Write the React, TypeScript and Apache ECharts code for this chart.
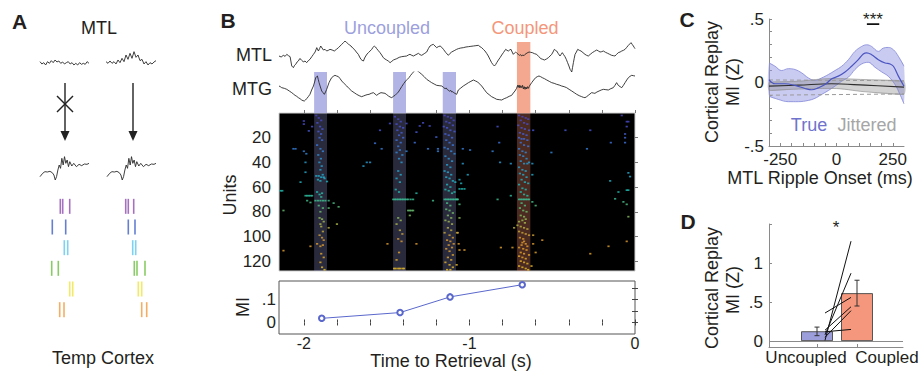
import React, { useEffect, useRef } from 'react';
import * as echarts from 'echarts';

const FONT = '"Liberation Sans", Arial, Helvetica, sans-serif';
const TEXT = '#231f20';
const TRACE = '#2a2a2a';

// ---------- Panel A (schematic) ----------
const mtlQuietTrace = [5, -2, 2, -5, 5, 0, 8, 2, 10, 4, 7, 0, 4, -2, 2, 5, -2, 2, -5, 0, -5, 2, -3, 0, -3, 5, 0];
const mtlRippleTrace = [5, 0, 7, 0, 5, -2, 10, 2, 15, 5, 25, 12, 30, 15, 35, 18, 25, 8, 12, -2, 5, -5, 2, -2, 4, 8];
const cortexTrace = [
  [0, -30], [5.4, -20], [10.1, -15], [14.9, -16], [20.3, -14], [25, -18], [28.4, -25], [31.1, -40], [33.8, -30],
  [36.5, -10], [39.2, 5], [41.9, -5], [44.6, 25], [47.3, 5], [50, 30], [52.7, 10], [55.4, 20], [58.1, 0],
  [60.8, 15], [64.9, 2], [68.9, 10], [74.3, 0], [79.7, 7], [85.1, 3], [90.5, 8], [95.9, 7], [100, 10],
];
const spikeRowColors = ['#8e4bb3', '#3d5fc6', '#5cc6ef', '#6bbf3d', '#f0e43e', '#f19a3b'];
const spikesLeft = [
  [20.3, 0], [22.7, 0], [29.7, 0], [12.3, 1], [25.7, 1], [24.3, 2], [27.7, 2],
  [11.7, 3], [18.3, 3], [29.7, 4], [32.7, 4], [19.7, 5], [24, 5],
];
const spikesRight = [
  [85.7, 0], [88.3, 0], [93.7, 0], [88.3, 1], [95, 1], [92.7, 2], [95.7, 2],
  [94.3, 3], [97, 3], [105, 3], [98.3, 4], [101.7, 4], [101.7, 5], [106.7, 5],
];

// ---------- Panel B ----------
const timeTicks = [-2, -1.8, -1.6, -1.4, -1.2, -1, -0.8, -0.6, -0.4, -0.2, 0];
const timeLabels = [-2, -1, 0];
const bandRanges = [[-1.938, -1.86], [-1.461, -1.383], [-1.161, -1.081], [-0.713, -0.632]];
const bandCoupled = [false, false, false, true];

const mtlLfp = [
  [-2.15, 0], [-2.137, -3], [-2.124, 2], [-2.113, -1], [-2.103, 5], [-2.093, 1], [-2.083, -2], [-2.073, -30], [-2.063, -35],
  [-2.056, -28], [-2.049, -25], [-2.041, -18], [-2.033, -15], [-2.025, -8], [-2.017, -10], [-2.01, -14], [-2.003, -18],
  [-1.993, -15], [-1.983, -20], [-1.973, -14], [-1.963, -10], [-1.952, -2], [-1.942, 5], [-1.932, 12], [-1.922, 25],
  [-1.912, 15], [-1.905, 22], [-1.898, 30], [-1.89, 24], [-1.882, 18], [-1.872, 20], [-1.862, 15], [-1.852, 17],
  [-1.842, 20], [-1.829, 18], [-1.816, 15], [-1.803, 20], [-1.791, 25], [-1.781, 30], [-1.771, 35], [-1.761, 40],
  [-1.751, 45], [-1.743, 41], [-1.735, 38], [-1.725, 33], [-1.715, 30], [-1.705, 24], [-1.695, 20], [-1.683, 12],
  [-1.671, 5], [-1.663, -3], [-1.655, -10], [-1.648, -13], [-1.64, -15], [-1.633, -6], [-1.626, 0], [-1.618, 6],
  [-1.61, 10], [-1.6, 15], [-1.59, 20], [-1.582, 26], [-1.574, 30], [-1.567, 27], [-1.56, 22], [-1.55, 16], [-1.54, 10],
  [-1.53, 3], [-1.52, -5], [-1.51, -9], [-1.5, -12], [-1.49, -15], [-1.479, -20], [-1.469, -16], [-1.459, -12],
  [-1.449, -10], [-1.439, -8], [-1.424, -4], [-1.409, -2], [-1.394, -1], [-1.379, 0], [-1.369, 3], [-1.359, 5],
  [-1.348, 2], [-1.338, 0], [-1.323, 4], [-1.308, 8], [-1.298, 4], [-1.288, 2], [-1.273, 7], [-1.258, 12], [-1.248, 22],
  [-1.238, 30], [-1.228, 33], [-1.218, 35], [-1.208, 30], [-1.198, 25], [-1.188, 28], [-1.177, 30], [-1.167, 26],
  [-1.157, 20], [-1.142, 10], [-1.127, 2], [-1.117, 8], [-1.107, 12], [-1.092, 16], [-1.077, 20], [-1.067, 22],
  [-1.052, 24], [-1.037, 25], [-1.021, 27], [-1.006, 28], [-0.991, 29], [-0.976, 30], [-0.961, 31], [-0.946, 32],
  [-0.936, 28], [-0.926, 25], [-0.916, 20], [-0.906, 15], [-0.896, 8], [-0.886, 0], [-0.876, -10], [-0.866, -20],
  [-0.857, -26], [-0.849, -30], [-0.842, -26], [-0.835, -20], [-0.825, -12], [-0.815, -5], [-0.805, 3], [-0.795, 10],
  [-0.788, 15], [-0.781, 20], [-0.773, 17], [-0.765, 15], [-0.757, 18], [-0.749, 20], [-0.742, 12], [-0.735, 5],
  [-0.728, 9], [-0.721, 12], [-0.713, 8], [-0.705, 5], [-0.698, 2], [-0.69, 4], [-0.684, 0], [-0.677, 3], [-0.67, 1],
  [-0.664, 5], [-0.652, 9], [-0.64, 12], [-0.63, 11], [-0.62, 10], [-0.607, 7], [-0.594, 5], [-0.581, -2], [-0.568, -8],
  [-0.557, -10], [-0.547, -12], [-0.535, -9], [-0.523, -5], [-0.513, 0], [-0.503, 5], [-0.495, 12], [-0.487, 20],
  [-0.48, 17], [-0.473, 15], [-0.463, 7], [-0.453, 0], [-0.446, 5], [-0.439, 10], [-0.431, 4], [-0.423, -2],
  [-0.415, -10], [-0.407, -20], [-0.399, -30], [-0.392, -40], [-0.387, -44], [-0.382, -48], [-0.377, -34],
  [-0.372, -20], [-0.367, -7], [-0.362, 5], [-0.354, 12], [-0.346, 20], [-0.336, 17], [-0.326, 15], [-0.314, 10],
  [-0.302, 5], [-0.292, 2], [-0.282, 0], [-0.27, 5], [-0.258, 10], [-0.245, 14], [-0.231, 18], [-0.221, 15],
  [-0.211, 12], [-0.201, 13], [-0.191, 15], [-0.178, 11], [-0.165, 8], [-0.153, 5], [-0.141, 2], [-0.131, 1],
  [-0.121, 0], [-0.111, 5], [-0.101, 10], [-0.09, 12], [-0.08, 15], [-0.07, 17], [-0.06, 20], [-0.05, 26], [-0.04, 32],
  [-0.032, 36], [-0.024, 40], [-0.017, 35], [-0.01, 30], [-0.005, 26], [0, 22],
];

const mtgLfp = [
  [-2.15, 0], [-2.142, -2], [-2.134, -5], [-2.118, -7], [-2.103, -10], [-2.088, -15], [-2.073, -20], [-2.063, -24],
  [-2.053, -28], [-2.043, -31], [-2.033, -35], [-2.023, -38], [-2.013, -42], [-2.005, -44], [-1.997, -45], [-1.99, -42],
  [-1.983, -38], [-1.973, -32], [-1.963, -25], [-1.953, -12], [-1.942, 0], [-1.935, 12], [-1.928, 25], [-1.923, 28],
  [-1.918, 30], [-1.913, 20], [-1.908, 10], [-1.9, -3], [-1.892, -15], [-1.884, -20], [-1.876, -25], [-1.869, -18],
  [-1.862, -10], [-1.855, 0], [-1.848, 10], [-1.84, 18], [-1.832, 25], [-1.822, 29], [-1.812, 32], [-1.802, 30],
  [-1.791, 28], [-1.781, 22], [-1.771, 15], [-1.756, 7], [-1.741, 0], [-1.726, -8], [-1.711, -15], [-1.696, -20],
  [-1.681, -25], [-1.666, -29], [-1.651, -32], [-1.64, -30], [-1.63, -28], [-1.618, -26], [-1.606, -25], [-1.593, -22],
  [-1.58, -20], [-1.57, -24], [-1.56, -28], [-1.547, -23], [-1.534, -20], [-1.522, -21], [-1.51, -22], [-1.499, -26],
  [-1.489, -30], [-1.479, -33], [-1.469, -35], [-1.459, -31], [-1.449, -28], [-1.439, -23], [-1.429, -18],
  [-1.419, -10], [-1.409, -2], [-1.397, 7], [-1.385, 15], [-1.375, 20], [-1.365, 25], [-1.355, 32], [-1.345, 38],
  [-1.336, 43], [-1.328, 48], [-1.32, 47], [-1.312, 45], [-1.3, 40], [-1.288, 35], [-1.273, 28], [-1.258, 20],
  [-1.243, 15], [-1.228, 10], [-1.213, 6], [-1.198, 2], [-1.183, 1], [-1.167, 0], [-1.157, -4], [-1.147, -8],
  [-1.14, -6], [-1.133, -11], [-1.127, -12], [-1.12, -16], [-1.113, -13], [-1.107, -18], [-1.1, -17], [-1.092, -21],
  [-1.077, -25], [-1.067, -12], [-1.052, -6], [-1.037, 0], [-1.021, 5], [-1.006, 10], [-0.991, 14], [-0.976, 18],
  [-0.963, 15], [-0.95, 12], [-0.938, 6], [-0.926, 0], [-0.911, -10], [-0.896, -20], [-0.881, -26], [-0.866, -32],
  [-0.85, -36], [-0.835, -40], [-0.82, -41], [-0.805, -42], [-0.79, -38], [-0.775, -35], [-0.76, -31], [-0.745, -28],
  [-0.735, -21], [-0.725, -15], [-0.715, -7], [-0.709, 2], [-0.705, -4], [-0.7, 3], [-0.695, -6], [-0.69, 1],
  [-0.684, -5], [-0.679, 2], [-0.674, -9], [-0.669, -2], [-0.664, -10], [-0.659, -3], [-0.654, -9], [-0.649, -2],
  [-0.644, -7], [-0.638, -1], [-0.634, 3], [-0.624, 10], [-0.612, 18], [-0.6, 25], [-0.59, 28], [-0.58, 30],
  [-0.57, 28], [-0.56, 25], [-0.547, 22], [-0.533, 18], [-0.518, 14], [-0.503, 10], [-0.488, 8], [-0.473, 5],
  [-0.458, 3], [-0.443, 0], [-0.428, -2], [-0.413, -5], [-0.398, -10], [-0.382, -15], [-0.367, -20], [-0.352, -25],
  [-0.337, -29], [-0.322, -32], [-0.312, -34], [-0.302, -35], [-0.292, -32], [-0.282, -28], [-0.272, -24],
  [-0.262, -20], [-0.252, -21], [-0.242, -22], [-0.23, -18], [-0.217, -15], [-0.204, -12], [-0.191, -10],
  [-0.176, -11], [-0.161, -12], [-0.146, -8], [-0.131, -5], [-0.121, 2], [-0.111, 10], [-0.106, 6], [-0.101, 2],
  [-0.09, -2], [-0.08, -5], [-0.07, 2], [-0.06, 10], [-0.05, 18], [-0.04, 25], [-0.03, 29], [-0.02, 32], [-0.01, 31], [0, 30],
];

// raster spikes: [time (s), unit]
const spikesScattered = [
  [-2.14, 63], [-2.13, 63], [-2.123, 111.5], [-2.123, 79], [-2.063, 29], [-2.05, 29], [-2.02, 56], [-2.0, 6.5], [-2.0, 9],
  [-2.0, 31], [-1.985, 33], [-1.99, 40], [-1.99, 48], [-1.99, 67], [-1.98, 67], [-1.97, 67], [-1.96, 67], [-1.95, 67],
  [-1.98, 71], [-1.96, 72.5], [-1.97, 14.5], [-1.95, 11], [-1.96, 108], [-1.86, 55.5], [-1.85, 71], [-1.85, 77],
  [-1.85, 93], [-1.82, 73], [-1.8, 90], [-1.79, 76], [-1.64, 43], [-1.62, 40], [-1.6, 40], [-1.57, 24.5], [-1.54, 14],
  [-1.53, 29], [-1.495, 106], [-1.48, 8.5], [-1.38, 8.5], [-1.38, 31], [-1.37, 79], [-1.36, 79], [-1.35, 79], [-1.34, 79],
  [-1.36, 83], [-1.33, 24], [-1.32, 15.5], [-1.32, 106], [-1.32, 65], [-1.3, 10.5], [-1.28, 8], [-1.24, 10.5],
  [-1.25, 29], [-1.19, 29], [-1.22, 71], [-1.2, 19.5], [-1.19, 31],
  [-1.04, 29], [-0.996, 30], [-1.04, 41], [-1.06, 54], [-1.05, 57], [-1.06, 61.5], [-1.045, 61.5], [-1.03, 61.5],
  [-1.01, 50], [-1.075, 70], [-1.06, 74], [-1.06, 85], [-1.06, 111], [-1.03, 111], [-1.077, 123], [-1.075, 97],
  [-1.07, 97], [-1.065, 106], [-0.83, 11], [-0.82, 24], [-0.86, 31], [-0.815, 40], [-0.83, 70], [-0.81, 109],
  [-0.75, 41], [-0.75, 67], [-0.73, 93], [-0.74, 109], [-0.615, 14], [-0.62, 41], [-0.62, 50], [-0.62, 72], [-0.6, 75],
  [-0.615, 99], [-0.615, 106], [-0.6, 113], [-0.56, 103], [-0.625, 124], [-0.505, 32], [-0.42, 14], [-0.29, 29],
  [-0.27, 114], [-0.27, 14], [-0.16, 108], [-0.15, 55], [-0.146, 24], [-0.1, 64], [-0.12, 69.5], [-0.07, 72],
  [-0.08, 2], [-0.05, 7], [-0.04, 7], [-0.05, 11], [-0.06, 17], [-0.06, 20], [-0.06, 24], [-0.05, 62.5], [-0.04, 62.5],
  [-0.05, 74], [-0.04, 48.5], [-0.03, 51.5], [-0.04, 84], [-0.05, 104],
];
const spikesEvent1 = [
  [-1.925, 2], [-1.91, 4], [-1.895, 6], [-1.918, 8], [-1.902, 11], [-1.888, 13], [-1.912, 15], [-1.896, 17], [-1.905, 20],
  [-1.89, 22], [-1.92, 26], [-1.9, 29], [-1.885, 31], [-1.913, 34], [-1.897, 37], [-1.906, 40], [-1.892, 43], [-1.9, 46],
  [-1.925, 51], [-1.91, 51], [-1.895, 52], [-1.88, 52], [-1.915, 54], [-1.9, 55], [-1.886, 50], [-1.875, 53],
  [-1.92, 64], [-1.905, 66], [-1.89, 65], [-1.93, 71], [-1.915, 71], [-1.9, 71], [-1.885, 71], [-1.87, 71], [-1.895, 68],
  [-1.91, 75], [-1.885, 77], [-1.9, 80], [-1.905, 85], [-1.89, 86], [-1.88, 88], [-1.9, 90], [-1.895, 92],
  [-1.885, 96], [-1.905, 99], [-1.89, 101], [-1.88, 103], [-1.92, 106], [-1.9, 108], [-1.885, 107],
  [-1.895, 114], [-1.88, 117], [-1.9, 121], [-1.89, 125], [-1.875, 127],
];
const spikesEvent2 = [
  [-1.45, 3], [-1.43, 5], [-1.415, 7], [-1.44, 9], [-1.42, 11], [-1.4, 12], [-1.435, 14], [-1.41, 16], [-1.425, 18],
  [-1.4, 20], [-1.44, 22], [-1.415, 24], [-1.43, 27], [-1.42, 30], [-1.44, 32], [-1.405, 34], [-1.425, 37], [-1.41, 40],
  [-1.43, 47], [-1.415, 50], [-1.44, 53], [-1.42, 56], [-1.445, 62], [-1.425, 64],
  [-1.46, 70], [-1.45, 70], [-1.44, 70], [-1.43, 70], [-1.42, 70], [-1.41, 70], [-1.4, 70], [-1.39, 70], [-1.38, 70],
  [-1.37, 70], [-1.355, 70], [-1.34, 70], [-1.43, 85], [-1.415, 87], [-1.44, 90], [-1.42, 95], [-1.405, 98],
  [-1.43, 102], [-1.41, 104], [-1.425, 113], [-1.44, 119],
  [-1.455, 126], [-1.445, 126], [-1.43, 126], [-1.42, 126], [-1.405, 126], [-1.395, 126],
];
const spikesEvent3 = [
  [-1.15, 2], [-1.13, 3], [-1.11, 4], [-1.095, 6], [-1.14, 7], [-1.12, 8], [-1.1, 10], [-1.155, 11], [-1.135, 12],
  [-1.115, 14], [-1.09, 15], [-1.145, 17], [-1.125, 18], [-1.105, 20], [-1.14, 22], [-1.12, 24],
  [-1.1, 26], [-1.15, 28], [-1.13, 29], [-1.11, 31], [-1.09, 33], [-1.145, 35], [-1.125, 37], [-1.105, 39],
  [-1.135, 42], [-1.115, 44], [-1.15, 47], [-1.13, 48], [-1.11, 50], [-1.14, 52], [-1.12, 53], [-1.1, 55],
  [-1.085, 56], [-1.135, 58], [-1.115, 60], [-1.145, 62], [-1.125, 63], [-1.105, 65], [-1.09, 64],
  [-1.15, 70], [-1.14, 70], [-1.13, 70], [-1.12, 70], [-1.11, 70], [-1.1, 70], [-1.09, 70], [-1.08, 70], [-1.07, 70],
  [-1.135, 73], [-1.115, 75], [-1.14, 78], [-1.12, 79], [-1.1, 81], [-1.13, 83], [-1.11, 85], [-1.145, 87],
  [-1.125, 88], [-1.105, 90], [-1.13, 93], [-1.11, 95], [-1.15, 97], [-1.12, 99], [-1.1, 101], [-1.135, 103],
  [-1.115, 104], [-1.095, 106], [-1.125, 107], [-1.105, 109], [-1.14, 110], [-1.12, 112], [-1.1, 115], [-1.13, 117],
  [-1.11, 119], [-1.145, 121], [-1.12, 123], [-1.1, 125], [-1.135, 127], [-1.115, 127],
];
const spikesEvent4 = [
  [-0.7, 2], [-0.68, 3], [-0.66, 4], [-0.645, 5], [-0.69, 6], [-0.67, 8], [-0.65, 9], [-0.705, 10], [-0.685, 12],
  [-0.665, 13], [-0.64, 14], [-0.695, 16], [-0.675, 17], [-0.655, 18], [-0.7, 20], [-0.685, 21], [-0.67, 21],
  [-0.65, 22], [-0.69, 24], [-0.67, 26], [-0.645, 27], [-0.7, 29], [-0.68, 31], [-0.66, 32], [-0.695, 34],
  [-0.675, 35], [-0.655, 37], [-0.69, 39], [-0.67, 41], [-0.65, 41], [-0.64, 40], [-0.7, 44], [-0.68, 46],
  [-0.66, 47], [-0.695, 49], [-0.675, 50], [-0.655, 52], [-0.685, 54], [-0.665, 56], [-0.645, 57], [-0.7, 58],
  [-0.68, 61], [-0.66, 62], [-0.69, 64], [-0.67, 66], [-0.65, 67], [-0.7, 70], [-0.69, 70], [-0.68, 70], [-0.67, 70],
  [-0.66, 70], [-0.65, 70], [-0.64, 70], [-0.685, 73], [-0.665, 75], [-0.695, 77], [-0.675, 79], [-0.655, 80],
  [-0.69, 83], [-0.67, 84], [-0.66, 86], [-0.68, 87], [-0.7, 88], [-0.665, 89], [-0.71, 91], [-0.69, 92], [-0.67, 93],
  [-0.65, 94], [-0.7, 96], [-0.68, 97], [-0.66, 98], [-0.64, 99], [-0.695, 101], [-0.675, 102], [-0.67, 104],
  [-0.68, 105], [-0.66, 106], [-0.685, 107], [-0.65, 108], [-0.7, 109], [-0.675, 110], [-0.655, 111], [-0.69, 113],
  [-0.67, 114], [-0.64, 115], [-0.7, 116], [-0.68, 117], [-0.66, 118], [-0.69, 120], [-0.67, 121], [-0.65, 122],
  [-0.7, 124], [-0.68, 125], [-0.66, 126], [-0.645, 127],
];
const unitColors = ['#4b3fbf', '#4a55d6', '#3b78e0', '#2a9ad6', '#22b0d0', '#22c0b0', '#5cc47a', '#b0bc4a', '#e09a30', '#e8a82a', '#e8c02a'];

const miTimes = [-1.892, -1.419, -1.117, -0.681];
const miValues = [0.018, 0.043, 0.111, 0.164];

// ---------- Panel C ----------
const trueMean = [
  [-300, 0.023], [-273, -0.01], [-229, -0.01], [-184, -0.023], [-140, -0.047], [-110, -0.057], [-81, -0.042],
  [-51, -0.016], [-21, 0.029], [8, 0.05], [38, 0.083], [67, 0.128], [97, 0.18], [119, 0.224], [134, 0.234],
  [156, 0.219], [186, 0.18], [216, 0.154], [238, 0.146], [253, 0.128], [275, 0.05], [300, -0.029],
];
const trueUpper = [
  [-300, 0.154], [-273, 0.128], [-244, 0.094], [-214, 0.109], [-184, 0.102], [-155, 0.076], [-125, 0.036],
  [-96, 0.016], [-66, 0.036], [-36, 0.063], [-7, 0.094], [23, 0.128], [53, 0.18], [82, 0.245], [112, 0.284],
  [134, 0.297], [156, 0.284], [186, 0.245], [208, 0.271], [230, 0.276], [253, 0.258], [275, 0.206], [300, 0.128],
];
const trueLower = [
  [-300, -0.107], [-259, -0.133], [-214, -0.151], [-170, -0.151], [-125, -0.141], [-96, -0.125], [-66, -0.094],
  [-36, -0.063], [-7, -0.029], [23, 0.01], [53, 0.042], [82, 0.102], [112, 0.146], [141, 0.159], [171, 0.12],
  [201, 0.083], [230, 0.049], [260, -0.016], [282, -0.094], [300, -0.167],
];
const jitterMean = [[-300, -0.029], [-170, -0.021], [-21, -0.01], [127, -0.021], [300, -0.036]];
const jitterUpper = [[-300, 0.003], [-170, 0.01], [-21, 0.031], [127, 0.023], [300, 0.01]];
const jitterLower = [[-300, -0.063], [-170, -0.052], [-21, -0.047], [127, -0.073], [300, -0.094]];
const jitterCiUpper = [[-300, 0.02], [300, 0.014]];
const jitterCiLower = [[-300, -0.1], [300, -0.09]];
const sigWindow = [[135, 0.46], [190, 0.46]];

// ---------- Panel D ----------
const dCategoryPos = [1, 2];
const dMeans = [0.127, 0.615];
const dErrLow = [0.07, 0.45];
const dErrHigh = [0.18, 0.78];
const dColors = ['#9c9edc', '#f4977c'];
const subjUncoupled = [0.01, 0.08, 0.36, 0.14, 0.05, 0.12];
const subjCoupled = [1.28, 0.87, 0.56, 0.44, 0.39, 0.15];
const pairX = [1.2, 1.85];

const decFmt = (v: number) => {
  if (Math.abs(v) < 1e-9) return '0';
  const s = Math.abs(v).toString();
  return (v < 0 ? '-' : '') + (s.startsWith('0.') ? s.slice(1) : s);
};

function buildOption() {
  const label = (size = 17) => ({ color: TEXT, fontSize: size, fontFamily: FONT });
  const hidden = (gridIndex: number, min: number, max: number, inverse = false) => ({
    type: 'value', gridIndex, min, max, inverse, show: false,
  });

  const grid = [
    { left: 40, top: 50, width: 49, height: 18.33 }, // 0 A top left
    { left: 106, top: 50, width: 50, height: 18.33 }, // 1 A top right
    { left: 40, top: 155, width: 49, height: 26.67 }, // 2 A bottom left
    { left: 107, top: 155, width: 49, height: 26.67 }, // 3 A bottom right
    { left: 40, top: 196, width: 120, height: 124 }, // 4 spikes
    { left: 279, top: 38, width: 356, height: 34 }, // 5 MTL
    { left: 279, top: 72, width: 356, height: 41 }, // 6 MTG
    { left: 279, top: 113, width: 356, height: 158, show: true, backgroundColor: '#000', borderColor: '#d0d0d0', borderWidth: 1 }, // 7 raster
    { left: 279, top: 281, width: 356, height: 53, show: true, backgroundColor: 'transparent', borderColor: '#555', borderWidth: 1 }, // 8 MI
    { left: 769, top: 19, width: 135, height: 127 }, // 9 C
    { left: 769, top: 224, width: 134, height: 123 }, // 10 D
  ];

  const tickStyle = (color = '#444') => ({ show: true, inside: true, length: 3, lineStyle: { color, width: 1 } });

  const xAxis: any[] = [
    hidden(0, 0, mtlQuietTrace.length - 1),
    hidden(1, 0, mtlRippleTrace.length - 1),
    hidden(2, 0, 100),
    hidden(3, 0, 100),
    hidden(4, 0, 120),
    hidden(5, -2.15, 0),
    hidden(6, -2.15, 0),
    {
      type: 'value', gridIndex: 7, min: -2.15, max: 0, axisLine: { show: false }, splitLine: { show: false },
      axisLabel: { show: false }, axisTick: { ...tickStyle('#777'), customValues: timeTicks },
    },
    {
      type: 'value', gridIndex: 8, min: -2.15, max: 0, position: 'bottom', axisLine: { show: false }, splitLine: { show: false },
      axisTick: { ...tickStyle('#444'), customValues: timeTicks },
      axisLabel: { ...label(16), margin: 1, customValues: timeLabels, formatter: (v: number) => String(v) },
    },
    {
      type: 'value', gridIndex: 9, min: -300, max: 300, interval: 50,
      axisLine: { show: true, onZero: false, lineStyle: { color: '#8a8a8a', width: 1 } }, splitLine: { show: false },
      axisTick: { ...tickStyle('#8a8a8a'), customValues: [-250, -200, -150, -100, -50, 0, 50, 100, 150, 200, 250] },
      axisLabel: { ...label(17), margin: 5, customValues: [-250, 0, 250], formatter: (v: number) => String(v) },
    },
    {
      type: 'value', gridIndex: 10, min: -0.2, max: 3.15,
      axisLine: { show: true, onZero: false, lineStyle: { color: '#8a8a8a', width: 1 } }, splitLine: { show: false },
      axisTick: { ...tickStyle('#8a8a8a'), customValues: dCategoryPos }, axisLabel: { show: false },
    },
    {
      type: 'value', gridIndex: 8, min: -2.15, max: 0, position: 'top', axisLine: { show: false }, splitLine: { show: false },
      axisTick: { ...tickStyle('#444'), customValues: timeTicks }, axisLabel: { show: false },
    },
  ];

  const yAxis: any[] = [
    hidden(0, -15, 40),
    hidden(1, -15, 40),
    hidden(2, -45, 35),
    hidden(3, -45, 35),
    hidden(4, -0.5, 5.5, true),
    hidden(5, -48, 54),
    hidden(6, -81, 42),
    {
      type: 'value', gridIndex: 7, min: 0, max: 128, inverse: true, axisLine: { show: false }, splitLine: { show: false },
      axisTick: { ...tickStyle('#777'), customValues: [20, 40, 60, 80, 100, 120] },
      axisLabel: { ...label(17), margin: 8, customValues: [20, 40, 60, 80, 100, 120] },
    },
    {
      type: 'value', gridIndex: 8, min: -0.05, max: 0.18, axisLine: { show: false }, splitLine: { show: false },
      axisTick: { ...tickStyle('#444'), customValues: [0, 0.05, 0.1, 0.15] },
      axisLabel: { ...label(17), margin: 3, customValues: [0, 0.1], formatter: decFmt },
    },
    {
      type: 'value', gridIndex: 9, min: -0.5, max: 0.5,
      axisLine: { show: true, onZero: false, lineStyle: { color: '#8a8a8a', width: 1 } }, splitLine: { show: false },
      axisTick: { ...tickStyle('#8a8a8a'), customValues: [-0.4, -0.3, -0.2, -0.1, 0, 0.1, 0.2, 0.3, 0.4, 0.5] },
      axisLabel: { ...label(17), margin: 5, customValues: [-0.5, 0, 0.5], formatter: decFmt },
    },
    {
      type: 'value', gridIndex: 10, min: -0.075, max: 1.5,
      axisLine: { show: true, onZero: false, lineStyle: { color: '#8a8a8a', width: 1 } }, splitLine: { show: false },
      axisTick: { ...tickStyle('#8a8a8a'), customValues: [0, 0.5, 1, 1.5] },
      axisLabel: { ...label(17), margin: 6, customValues: [0, 0.5, 1], formatter: decFmt },
    },
    {
      type: 'value', gridIndex: 8, min: -0.05, max: 0.18, position: 'right', axisLine: { show: false }, splitLine: { show: false },
      axisTick: { ...tickStyle('#444'), customValues: [0, 0.05, 0.1, 0.15] }, axisLabel: { show: false },
    },
  ];

  const series: any[] = [];
  const lineS = (idx: number, data: any[], color: string, width = 1, extra: any = {}) => ({
    type: 'line', xAxisIndex: idx, yAxisIndex: idx, data, showSymbol: false, symbol: 'none', silent: true,
    lineStyle: { color, width }, z: 4, ...extra,
  });

  // Panel A
  series.push(lineS(0, mtlQuietTrace.map((v, i) => [i, v]), TRACE, 0.9));
  series.push(lineS(1, mtlRippleTrace.map((v, i) => [i, v]), TRACE, 0.9));
  series.push(lineS(2, cortexTrace, TRACE, 0.9));
  series.push(lineS(3, cortexTrace, TRACE, 0.9));
  series.push({
    type: 'scatter', xAxisIndex: 4, yAxisIndex: 4, silent: true, symbol: 'rect', symbolSize: [1.6, 15],
    data: spikesLeft.concat(spikesRight),
    itemStyle: { color: (p: any) => spikeRowColors[p.value[1]] },
  });

  // Panel B bands
  const bandSeries = (idx: number, coupledOnly: boolean, uColor: string, cColor: string, topValue: number | null) => ({
    type: 'custom', xAxisIndex: idx, yAxisIndex: idx, silent: true, z: 1,
    data: bandRanges.map((r, i) => [r[0], r[1], i]).filter((d) => !coupledOnly || bandCoupled[d[2]]),
    encode: { x: [0, 1] },
    renderItem: (params: any, api: any) => {
      const cs = params.coordSys;
      const i = api.value(2);
      const x0 = api.coord([api.value(0), 0])[0];
      const x1 = api.coord([api.value(1), 0])[0];
      const y0 = topValue === null ? cs.y : api.coord([0, topValue])[1];
      return {
        type: 'rect',
        shape: { x: x0, y: y0, width: x1 - x0, height: cs.y + cs.height - y0 },
        style: { fill: bandCoupled[i] ? cColor : uColor },
      };
    },
  });
  series.push(bandSeries(5, true, '#b3b4e6', '#f4a88f', 42));
  series.push(bandSeries(6, false, '#b3b4e6', '#f4a88f', null));
  series.push(bandSeries(7, false, 'rgba(160,165,235,0.26)', 'rgba(245,140,110,0.3)', null));

  series.push(lineS(5, mtlLfp, TRACE, 0.9));
  series.push(lineS(6, mtgLfp, TRACE, 0.9));

  const rasterIdx = series.length;
  series.push({
    type: 'scatter', xAxisIndex: 7, yAxisIndex: 7, silent: true, symbol: 'rect', symbolSize: [2.2, 1.7], z: 5,
    data: spikesScattered.concat(spikesEvent1, spikesEvent2, spikesEvent3, spikesEvent4),
  });

  series.push({
    type: 'line', xAxisIndex: 8, yAxisIndex: 8, silent: true, z: 5,
    data: miTimes.map((t, i) => [t, miValues[i]]),
    symbol: 'emptyCircle', symbolSize: 5.5, showSymbol: true,
    lineStyle: { color: '#5a68cc', width: 1 }, itemStyle: { color: '#5a68cc', borderWidth: 1 },
  });

  // Panel C
  const polySeries = (upper: number[][], lower: number[][], fill: string, z: number) => ({
    type: 'custom', xAxisIndex: 9, yAxisIndex: 9, silent: true, z, data: [0],
    renderItem: (params: any, api: any) => {
      const pts = upper.map((p) => api.coord(p)).concat(lower.slice().reverse().map((p) => api.coord(p)));
      return { type: 'polygon', shape: { points: pts, smooth: 0.25 }, style: { fill } };
    },
  });
  series.push(polySeries(trueUpper, trueLower, 'rgba(150,152,226,0.5)', 1));
  series.push(polySeries(jitterUpper, jitterLower, 'rgba(140,140,140,0.38)', 2));
  series.push(lineS(9, trueUpper, '#8286d8', 0.8, { smooth: 0.4 }));
  series.push(lineS(9, trueLower, '#8286d8', 0.8, { smooth: 0.4 }));
  series.push(lineS(9, jitterUpper, '#8a8a8a', 0.6, { smooth: 0.4 }));
  series.push(lineS(9, jitterLower, '#8a8a8a', 0.6, { smooth: 0.4 }));
  series.push(lineS(9, jitterCiUpper, '#9a9a9a', 1, { lineStyle: { color: '#9a9a9a', width: 1, type: [4, 3] } }));
  series.push(lineS(9, jitterCiLower, '#9a9a9a', 1, { lineStyle: { color: '#9a9a9a', width: 1, type: [4, 3] } }));
  series.push(lineS(9, jitterMean, '#2e2e2e', 1.2, { smooth: 0.4 }));
  series.push(lineS(9, trueMean, '#4a55c2', 1.2, { smooth: 0.4 }));
  series.push(lineS(9, sigWindow, '#111', 1.6));

  // Panel D
  series.push({
    type: 'bar', xAxisIndex: 10, yAxisIndex: 10, silent: true, barWidth: 32, z: 2,
    data: dCategoryPos.map((x, i) => ({ value: [x, dMeans[i]], itemStyle: { color: dColors[i], borderColor: '#555', borderWidth: 1 } })),
    markLine: {
      silent: true, symbol: 'none', label: { show: false },
      lineStyle: { color: '#8a8a8a', type: 'solid', width: 1 }, data: [{ yAxis: 0 }],
    },
  });
  subjUncoupled.forEach((u, i) => {
    series.push(lineS(10, [[pairX[0], u], [pairX[1], subjCoupled[i]]], '#111', 1, { z: 8 }));
  });
  series.push({
    type: 'custom', xAxisIndex: 10, yAxisIndex: 10, silent: true, z: 9,
    data: dCategoryPos.map((x, i) => [x, dErrLow[i], dErrHigh[i]]),
    encode: { x: 0, y: [1, 2] },
    renderItem: (params: any, api: any) => {
      const x = api.value(0);
      const a = api.coord([x, api.value(1)]);
      const b = api.coord([x, api.value(2)]);
      const st = { stroke: '#333', lineWidth: 1 };
      return {
        type: 'group',
        children: [
          { type: 'line', shape: { x1: a[0], y1: a[1], x2: b[0], y2: b[1] }, style: st },
          { type: 'line', shape: { x1: a[0] - 2.5, y1: a[1], x2: a[0] + 2.5, y2: a[1] }, style: st },
          { type: 'line', shape: { x1: b[0] - 2.5, y1: b[1], x2: b[0] + 2.5, y2: b[1] }, style: st },
        ],
      };
    },
  });

  const txt = (text: string, x: number, y: number, o: any = {}) => ({
    type: 'text', x, y, rotation: o.rot || 0, silent: true, z: 10,
    style: {
      text, fontSize: o.size || 18, fontFamily: FONT, fontWeight: o.bold ? 'bold' : 'normal',
      fill: o.color || TEXT, align: o.align || 'center', verticalAlign: 'middle',
    },
  });
  const R = Math.PI / 2;
  const ink = '#222';
  const graphic: any[] = [
    // Panel A
    txt('A', 19.5, 21.5, { size: 21, bold: true }),
    txt('MTL', 99, 28),
    txt('Temp Cortex', 103, 358),
    { type: 'line', shape: { x1: 65, y1: 83, x2: 65, y2: 133 }, style: { stroke: ink, lineWidth: 1.4 } },
    { type: 'polygon', shape: { points: [[60.5, 131], [69.5, 131], [65, 141]] }, style: { fill: ink } },
    { type: 'line', shape: { x1: 57, y1: 96, x2: 73, y2: 112 }, style: { stroke: ink, lineWidth: 1.4 } },
    { type: 'line', shape: { x1: 57, y1: 112, x2: 73, y2: 96 }, style: { stroke: ink, lineWidth: 1.4 } },
    { type: 'line', shape: { x1: 133, y1: 83, x2: 133, y2: 133 }, style: { stroke: ink, lineWidth: 1.4 } },
    { type: 'polygon', shape: { points: [[128.5, 131], [137.5, 131], [133, 141]] }, style: { fill: ink } },
    // Panel B
    txt('B', 228, 20, { size: 21, bold: true }),
    txt('Uncoupled', 387, 28, { color: '#9d9fdd' }),
    txt('Coupled', 525, 28, { color: '#f4967a' }),
    txt('MTL', 272, 55, { align: 'right' }),
    txt('MTG', 272, 89, { align: 'right' }),
    txt('Units', 230, 195, { rot: R }),
    txt('MI', 243, 307, { rot: R }),
    txt('Time to Retrieval (s)', 451, 361),
    // Panel C
    txt('C', 687, 19.5, { size: 21, bold: true }),
    txt('Cortical Replay', 712, 82, { rot: R }),
    txt('MI (Z)', 733, 82, { rot: R }),
    txt('***', 873, 19, { size: 17 }),
    txt('True', 809, 125, { color: '#6f73cc' }),
    txt('Jittered', 867, 125, { color: '#a6a6a6' }),
    txt('MTL Ripple Onset (ms)', 820, 178),
    // Panel D
    txt('D', 688, 221, { size: 21, bold: true }),
    txt('Cortical Replay', 712, 288, { rot: R }),
    txt('MI (Z)', 733, 290, { rot: R }),
    txt('*', 836, 227, { size: 17 }),
    txt('Uncoupled', 806, 357, { size: 17 }),
    txt('Coupled', 887, 357, { size: 17 }),
  ];

  return {
    animation: false,
    backgroundColor: '#ffffff',
    textStyle: { fontFamily: FONT },
    grid,
    xAxis,
    yAxis,
    visualMap: [{
      show: false, type: 'continuous', seriesIndex: rasterIdx, dimension: 1, min: 0, max: 128,
      inRange: { color: unitColors },
    }],
    series,
    graphic,
  };
}

export default function App() {
  const ref = useRef<HTMLDivElement>(null);
  useEffect(() => {
    if (!ref.current) return;
    const chart = echarts.init(ref.current, null, { renderer: 'svg' });
    chart.setOption(buildOption() as any);
    return () => chart.dispose();
  }, []);
  return <div ref={ref} style={{ position: 'fixed', left: 0, top: 0, width: 923, height: 376, background: '#fff' }} />;
}
